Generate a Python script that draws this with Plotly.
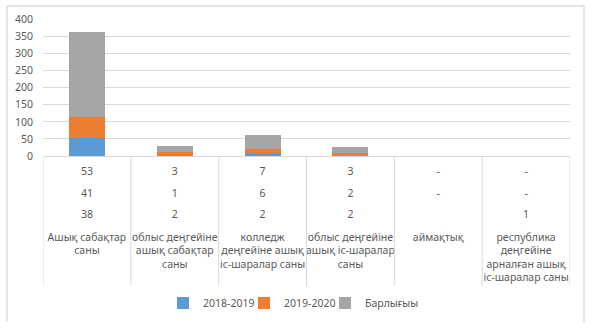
import plotly.graph_objects as go

W, H = 593, 336

categories = [
    "Ашық  сабақтар саны",
    "облыс деңгейіне ашық сабақтар саны",
    "колледж деңгейіне ашық іс-шаралар  саны",
    "облыс деңгейіне ашық іс-шаралар саны",
    "аймақтық",
    "республика деңгейіне арналған  ашық іс-шаралар  саны",
]
series_names = ["2018-2019", "2019-2020", "Барлығыы"]
s2018 = [54, 3, 8, 0, 0, 0]
s2019 = [60, 10, 13, 9, 0, 0]
s_total = [249, 17, 40, 17, 0, 0]
table_row1 = ["53", "3", "7", "3", "-", "-"]
table_row2 = ["41", "1", "6", "2", "-", "-"]
table_row3 = ["38", "2", "2", "2", "", "1"]
y_ticks = [0, 50, 100, 150, 200, 250, 300, 350, 400]

colors = ["#5B9BD5", "#ED7D31", "#A5A5A5"]
txt = "#595959"
grid = "#D9D9D9"
FONT = "Noto Sans"
FS = 10.5


def py(pix):
    return (H - pix) / H


def wrap(s, width=15):
    lines, cur = [], ""
    for w in s.split():
        if not cur:
            cur = w
        elif len(cur) + 1 + len(w) <= width:
            cur += " " + w
        else:
            lines.append(cur)
            cur = w
    if cur:
        lines.append(cur)
    return lines


legend_ids = ["legend", "legend2", "legend3"]
legend_left_px = [163, 244, 325]

xs = list(range(len(categories)))
fig = go.Figure()
for name, vals, c, lg in zip(series_names, [s2018, s2019, s_total], colors, legend_ids):
    fig.add_trace(go.Bar(x=xs, y=vals, name=name, marker=dict(color=c, line=dict(width=0)),
                         width=0.41, legend=lg))

# data table text (placed on a helper axis whose units are pixel rows of the table band)
tx, ty, tt = [], [], []
for row, ypix in [(table_row1, 172.7), (table_row2, 194), (table_row3, 215.7)]:
    for i, v in enumerate(row):
        if v:
            tx.append(i); ty.append(ypix); tt.append(v)
for i, c in enumerate(categories):
    for k, line in enumerate(wrap(c)):
        tx.append(i); ty.append(238 + 13.5 * k); tt.append(line)
fig.add_trace(go.Scatter(x=tx, y=ty, text=tt, mode="text", yaxis="y2",
                         textposition="middle center", showlegend=False,
                         hoverinfo="skip", cliponaxis=False,
                         textfont=dict(family=FONT, size=FS, color=txt)))

x0p, x1p = 43 / W, 570 / W
legend_cfg = {}
for lg, lx in zip(legend_ids, legend_left_px):
    legend_cfg[lg] = dict(orientation="h", x=lx / W, xanchor="left", y=py(303),
                          yanchor="middle", font=dict(family=FONT, size=FS, color=txt),
                          itemwidth=30, bgcolor="rgba(0,0,0,0)", borderwidth=0)

fig.update_layout(
    width=W, height=H,
    margin=dict(l=0, r=0, t=0, b=0, pad=0, autoexpand=False),
    paper_bgcolor="white", plot_bgcolor="white",
    barmode="stack",
    font=dict(family=FONT, size=FS, color=txt),
    showlegend=True,
    xaxis=dict(domain=[x0p, x1p], range=[-0.5, len(categories) - 0.5],
               showticklabels=False, showgrid=False, zeroline=False, showline=False,
               fixedrange=True, automargin=False),
    yaxis=dict(domain=[py(156), py(19.3)], range=[0, 400], tickvals=y_ticks,
               showgrid=True, gridcolor=grid, gridwidth=1, zeroline=True,
               zerolinecolor=grid, zerolinewidth=1, showline=False,
               ticks="", ticklabelstandoff=9, automargin=False,
               tickfont=dict(family=FONT, size=FS, color=txt)),
    yaxis2=dict(domain=[py(300), py(160)], range=[300, 160], anchor="x",
                visible=False, showgrid=False, zeroline=False, automargin=False),
    **legend_cfg,
)

shapes = []
# chart border (left, top, right)
for (xa, ya, xb, yb) in [(7, 6, 7, 322), (7, 6, 584, 6), (584, 6, 584, 322)]:
    shapes.append(dict(type="line", xref="paper", yref="paper",
                       x0=xa / W, x1=xb / W, y0=py(ya), y1=py(yb),
                       line=dict(color=grid, width=1.3)))
# data table vertical separators
for i in range(len(categories) + 1):
    shapes.append(dict(type="line", xref="x", yref="paper",
                       x0=i - 0.5, x1=i - 0.5, y0=py(156), y1=py(286),
                       line=dict(color=grid, width=1)))
fig.update_layout(shapes=shapes)

fig.write_html("out.html")
